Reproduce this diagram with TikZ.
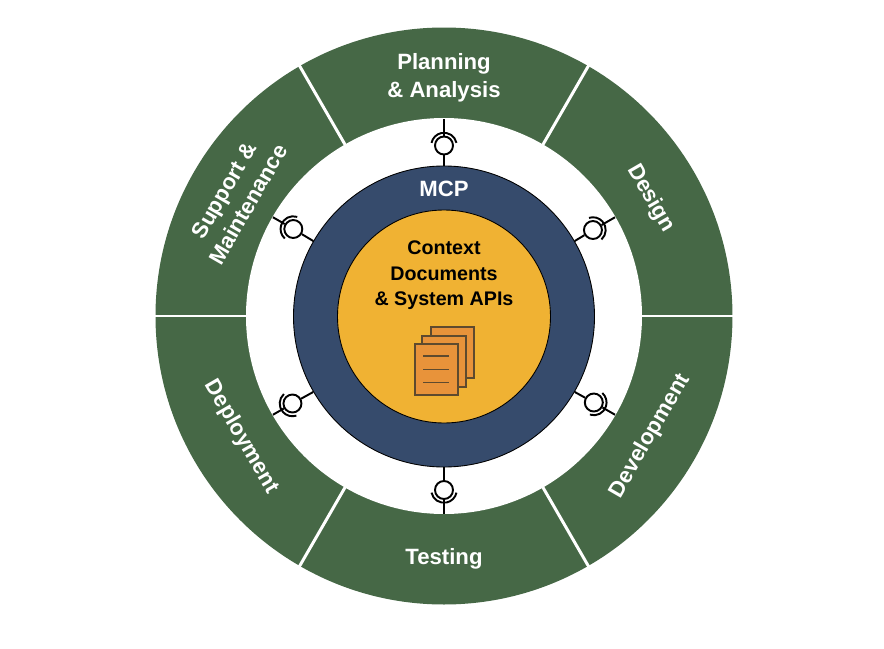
\documentclass[tikz,border=0pt]{standalone}
\usepackage{fontspec}
\setmainfont{Liberation Sans}
\usepackage{xcolor}
\usetikzlibrary{calc}
\definecolor{ringgreen}{HTML}{466846}
\definecolor{mcpblue}{HTML}{364B6C}
\definecolor{coregold}{HTML}{F0B233}
\definecolor{pageorange}{HTML}{E8933A}
\definecolor{pageedge}{HTML}{5E4A2E}
\tikzset{
  phaselabel/.style={align=center,text=white,font=\fontsize{12.6}{15.9}\selectfont\bfseries},
  socketball/.style={draw=black,circle,fill=white,line width=1.1pt,minimum size=0.36cm,inner sep=0pt},
  wire/.style={draw=black,line width=1.1pt},
  pagesheet/.style={draw=pageedge,fill=pageorange,line width=1.1pt,minimum width=0.87cm,minimum height=1.03cm,inner sep=0pt},
}
\begin{document}
\begin{tikzpicture}
\useasboundingbox (-8.88,-6.66) rectangle (8.80,6.32);
\fill[white] (-8.88,-6.66) rectangle (8.80,6.32);

% ring of phases
\fill[ringgreen] (0,0) circle (5.77);
\fill[white] (0,0) circle (3.96);
\foreach \a in {0,60,...,300}{
  \draw[white,line width=1.7pt] (\a:3.95) -- (\a:5.82);
}

\node[phaselabel] (planning) at (0,4.76) {Planning\\\& Analysis};
\node[phaselabel,rotate=-60] (design) at (4.13,2.35) {Design};
\node[phaselabel,rotate=60] (development) at (4.12,-2.40) {Development};
\node[phaselabel] (testing) at (0,-4.86) {Testing};
\node[phaselabel,rotate=-60] (deployment) at (-4.05,-2.42) {Deployment};
\node[phaselabel,rotate=60] (support) at (-4.16,2.37) {Support \&\\Maintenance};

% middle circles
\node[draw=black,circle,fill=mcpblue,minimum size=6.02cm,inner sep=0pt,line width=0.5pt] (mcp) at (0,-0.01) {};
\node[draw=black,circle,fill=coregold,minimum size=4.26cm,inner sep=0pt,line width=0.5pt] (core) at (0,-0.01) {};
\node[text=white,font=\fontsize{12.6}{15}\selectfont\bfseries] (mcplabel) at (0,2.54) {MCP};
\node[align=center,text=black,font=\fontsize{11.2}{14.5}\selectfont\bfseries] (corelabel) at (0,0.81) {Context\\Documents\\\& System APIs};

% sockets
\foreach \a/\r in {90/3.41,30/3.44,-30/3.46,-90/3.48,210/3.50,150/3.48}{
  \node[socketball] (ball\a) at (\a:\r) {};
  \coordinate (end\a) at (\a:3.95);
  \draw[wire] (mcp.\a) -- (ball\a);
  \draw[wire] (ball\a) -- (end\a);
  \draw[wire] ($(ball\a.center)+(\a-78:0.255)$) arc (\a-78:\a+78:0.255);
}

% stack of documents
\node[pagesheet] (page3) at (0.17,-0.73) {};
\node[pagesheet] (page2) at (0,-0.91) {};
\node[pagesheet] (page1) at (-0.15,-1.07) {};
\foreach \y in {-0.80,-1.07,-1.33}{
  \draw[pageedge,line width=1.1pt] (-0.41,\y) -- (0.11,\y);
}
\end{tikzpicture}
\end{document}
